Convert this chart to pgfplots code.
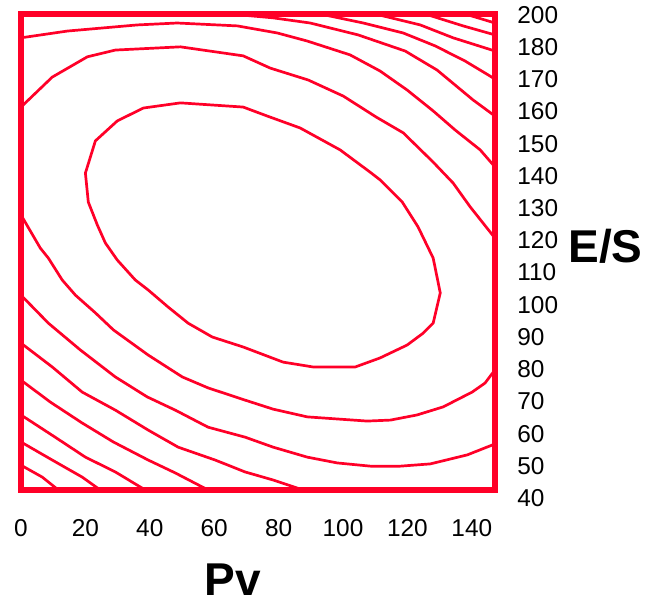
\documentclass[border=0pt]{standalone}
\usepackage{fontspec}
\setmainfont{Liberation Sans}
\usepackage{pgfplots}
\pgfplotsset{compat=1.18}
\definecolor{cred}{RGB}{255,0,40}
\begin{document}
\begin{tikzpicture}
\begin{axis}[
  scale only axis, width=237pt, height=238pt,
  xmin=0, xmax=147.2, ymin=42.5, ymax=190.3,
  axis line style={cred, line width=2.8pt},
  xtick={0,20,...,140},
  ytick={50,60,...,190},
  yticklabels={50,60,70,80,90,100,110,120,130,140,150,160,170,180,200},
  yticklabel pos=right,
  major tick length=0pt,
  /pgf/number format/assume math mode=true,
  tick label style={font=\fontsize{12.2}{14}\selectfont, inner sep=0pt},
  xticklabel style={anchor=north, yshift=-14.5pt},
  yticklabel style={anchor=west, xshift=11pt},
  clip mode=individual,
  cycle list={{cred,solid,no marks,line width=1.35pt,line join=round}},
  every axis plot post/.append style={cred, solid, no marks, line width=1.35pt, line join=round},
]
% C1 closed
\addplot coordinates {(38.0,161.1)(49.5,162.7)(69.0,161.4)(76.5,158.6)(86.7,154.9)(99.1,148.1)(108.4,141.2)(111.5,138.8)(118.4,131.9)(123.3,124.2)(128.0,114.5)(130.2,103.7)(128.0,94.3)(124.9,91.2)(119.9,87.5)(111.5,83.5)(103.8,80.7)(90.7,80.7)(81.4,82.2)(69.0,86.9)(59.4,90.0)(51.9,94.3)(45.7,99.3)(39.5,104.6)(35.5,107.7)(29.9,113.9)(26.2,119.2)(23.7,124.8)(20.9,131.9)(20.0,140.9)(23.1,150.9)(29.9,157.1)(38.0,161.1)};
% C2
\addplot coordinates {(0,161.4)(9.7,170.7)(20.6,177.0)(29.3,179.1)(49.5,180.1)(69.0,177.3)(77.4,173.5)(89.2,169.8)(100.1,164.8)(110.3,158.3)(118.7,153.4)(128.0,144.3)(134.2,137.8)(139.5,130.4)(147.2,120.7)};
\addplot coordinates {(147.2,79.8)(144.1,75.7)(140.1,72.9)(131.1,68.3)(123.0,65.8)(114.7,64.2)(107.5,63.9)(88.9,65.2)(78.3,67.6)(69.6,70.4)(58.1,74.2)(50.1,77.6)(39.5,84.4)(28.7,92.2)(23.1,97.5)(16.9,103.0)(12.8,107.7)(8.5,114.5)(6.0,117.6)(0,127.9)};
% C3
\addplot coordinates {(0,182.9)(14.4,185.0)(36.1,186.9)(48.5,187.5)(67.2,186.6)(79.6,184.4)(88.9,181.9)(102.2,177.6)(111.5,172.6)(119.9,166.7)(128.0,160.2)(134.8,154.3)(142.6,148.1)(147.2,142.8)};
\addplot coordinates {(0,103.0)(8.5,94.3)(18.4,86.0)(29.3,77.6)(39.2,71.4)(47.9,67.3)(58.1,62.0)(69.6,58.9)(78.3,55.8)(88.9,52.7)(98.2,50.9)(108.5,49.9)(117.8,49.9)(127.1,50.6)(138.6,53.4)(147.2,56.8)};
% C4
\addplot coordinates {(65.0,190.3)(78.3,189.1)(89.8,187.5)(104.7,183.8)(119.3,178.8)(129.2,172.9)(140.4,163.6)(147.2,158.6)};
\addplot coordinates {(0,88.1)(9.7,80.7)(19.0,72.9)(29.3,67.3)(39.5,61.1)(48.8,55.8)(60.3,51.8)(69.6,48.1)(78.3,45.6)(87.6,42.5)};
% C5
\addplot coordinates {(92.9,190.3)(106.3,187.5)(118.7,184.4)(128.6,180.4)(137.9,175.7)(147.2,170.1)};
\addplot coordinates {(0,76.6)(9.1,69.8)(19.0,63.3)(28.7,57.4)(39.5,51.8)(47.9,47.8)(58.1,42.5)};
% C6
\addplot coordinates {(110.0,190.3)(124.0,186.9)(134.2,182.9)(147.2,178.8)};
\addplot coordinates {(0,65.8)(10.6,58.9)(20.0,52.7)(29.3,48.1)(38.6,42.5)};
% C7
\addplot coordinates {(125.5,190.3)(137.3,186.6)(147.2,183.8)};
\addplot coordinates {(0,57.4)(9.7,51.8)(19.0,46.5)(24.6,42.5)};
% C8
\addplot coordinates {(137.9,190.3)(147.2,187.5)};
\addplot coordinates {(0,50.2)(6.6,46.5)(11.6,42.5)};
\node[anchor=west, inner sep=0pt, xshift=11pt, font=\fontsize{12.2}{14}\selectfont] at (axis cs:147.2,40) {40};
\node[anchor=base west, inner sep=0pt, xshift=36.5pt, font=\fontsize{23}{26}\selectfont\bfseries] at (axis cs:147.2,113) {E/S};
\node[anchor=base west, inner sep=0pt, yshift=-53pt, font=\fontsize{23}{26}\selectfont\bfseries] at (axis cs:56.9,42.5) {Pv};
\coordinate (bl) at (rel axis cs:0,0);
\coordinate (tr) at (rel axis cs:1,1);
\end{axis}
\pgfresetboundingbox
\path[use as bounding box] ([xshift=-10.5pt,yshift=-58.5pt]bl) rectangle ([xshift=76.5pt,yshift=7pt]tr);
\end{tikzpicture}
\end{document}
